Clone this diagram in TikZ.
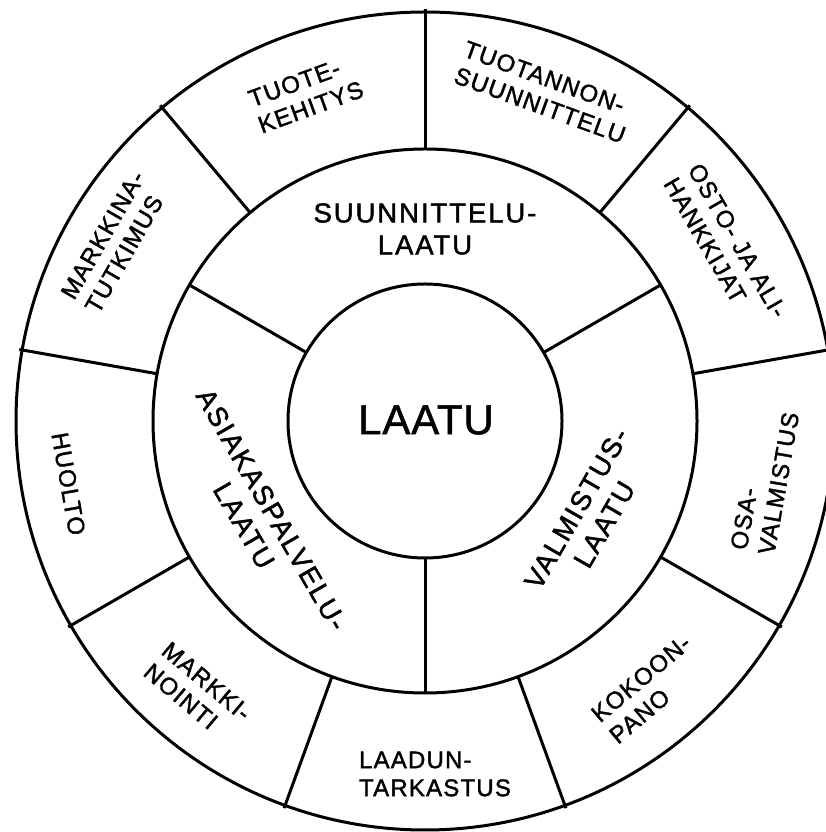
\documentclass[tikz,border=0pt]{standalone}
\usepackage{fontspec}
\setmainfont{Liberation Sans}
\newfontfamily\outerfont[LetterSpace=5,FakeBold=1.6]{Liberation Sans}
\newfontfamily\innerfont[LetterSpace=7,FakeBold=1.6]{Liberation Sans}
\newfontfamily\centerfont[LetterSpace=2,FakeBold=1.2]{Liberation Sans}
\begin{document}
\begin{tikzpicture}[x=1pt,y=1pt,
  ring/.style={line width=3pt},
  outerlab/.style={font=\outerfont\fontsize{24}{28}\selectfont, align=left, inner sep=0pt},
  innerlab/.style={font=\innerfont\fontsize{27.5}{32}\selectfont, align=center, inner sep=0pt},
  corelab/.style={font=\centerfont\fontsize{42}{48}\selectfont, inner sep=0pt}
]
\useasboundingbox (0,0) rectangle (826,832);
\clip (0,0) rectangle (826,832);
\coordinate (C) at (425,411);
% circles
\draw[ring] (C) circle[radius=137];
\draw[ring] (C) circle[radius=272];
\draw[ring] (C) circle[radius=409];
% inner ring dividers
\foreach \a in {30,150,270}
  \draw[ring] ([shift={(\a:137)}]C) -- ([shift={(\a:272)}]C);
% outer ring dividers
\foreach \a in {10,50,90,130,170,210,250,290,330}
  \draw[ring] ([shift={(\a:272)}]C) -- ([shift={(\a:412)}]C);
% centre
\node[corelab] (core) at (426,412) {LAATU};
% inner ring labels
\node[innerlab] (suunn) at ([shift={(90:192)}]C) {SUUNNITTELU-\\LAATU};
\node[innerlab, rotate=-60] (asiakas) at ([shift={(210:193)}]C) {ASIAKASPALVELU-\\LAATU};
\node[innerlab, rotate=60] (valm) at ([shift={(-30:191)}]C) {VALMISTUS-\\LAATU};
% outer ring labels
\node[outerlab, rotate=20] (tuote) at ([shift={(110:348)}]C) {TUOTE-\\KEHITYS};
\node[outerlab, rotate=-20] (tuotannon) at ([shift={(70:350)}]C) {TUOTANNON-\\SUUNNITTELU};
\node[outerlab, rotate=-60] (osto) at ([shift={(30:347)}]C) {OSTO- JA ALI-\\HANKKIJAT};
\node[outerlab, rotate=80] (osa) at ([shift={(-10:345)}]C) {OSA-\\VALMISTUS};
\node[outerlab, rotate=40] (kokoon) at ([shift={(-50:350)}]C) {KOKOON-\\PANO};
\node[outerlab] (laadun) at (435,58) {LAADUN-\\TARKASTUS};
\node[outerlab, rotate=-40] (markki) at ([shift={(-130:354)}]C) {MARKKI-\\NOINTI};
\node[outerlab, rotate=-80] (huolto) at ([shift={(190:362)}]C) {HUOLTO};
\node[outerlab, rotate=60] (markkina) at ([shift={(150:358)}]C) {MARKKINA-\\TUTKIMUS};
\end{tikzpicture}
\end{document}
